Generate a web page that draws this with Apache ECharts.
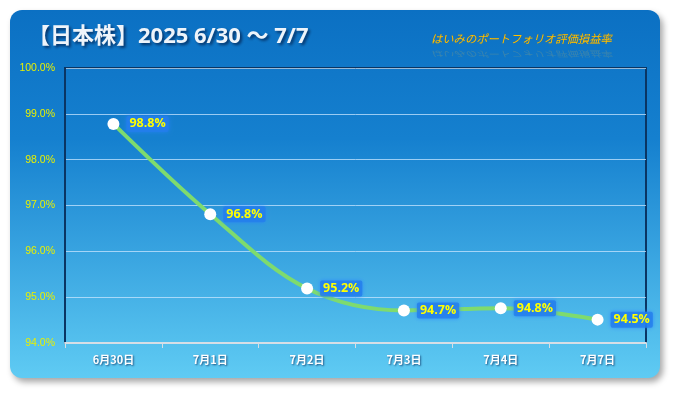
<!DOCTYPE html>
<html><head><meta charset="utf-8">
<script src="https://cdn.jsdelivr.net/npm/echarts@6/dist/echarts.min.js"></script>
<style>html,body{margin:0;padding:0;background:#fff}#c{width:675px;height:393px}</style>
</head><body><div id="c"></div>
<script>
const categories = ['6月30日','7月1日','7月2日','7月3日','7月4日','7月7日'];
const values = [98.78, 96.81, 95.19, 94.71, 94.76, 94.51];
const yTicks = {min: 94, max: 100, interval: 1};
const titleText = '【日本株】2025 6/30 〜 7/7';
const subtitleText = 'はいみのポートフォリオ評価損益率';

const chart = echarts.init(document.getElementById('c'), null, {renderer: 'canvas'});
chart.setOption({
  backgroundColor: '#ffffff',
  animation: false,
  graphic: [
    {type: 'rect', z: -100, shape: {x: 10, y: 10, width: 650, height: 368, r: 12},
     style: {fill: new echarts.graphic.LinearGradient(0,0,0,1,[{offset:0,color:'#0B70C3'},{offset:0.35,color:'#1580CF'},{offset:1,color:'#5FCBF3'}]),
       shadowColor: 'rgba(0,0,0,0.35)', shadowBlur: 6, shadowOffsetX: 3, shadowOffsetY: 4}},
    {type: 'text', z: 10, left: 28, top: 26,
     style: {text: titleText, fill: '#EEF4FA', font: 'bold 22px "Open Sans", "Noto Sans CJK JP", sans-serif',
       textShadowColor: 'rgba(0,20,60,0.7)', textShadowBlur: 3, textShadowOffsetX: 2, textShadowOffsetY: 2}},
    {type: 'text', z: 10, x: 431, y: 33,
     style: {text: subtitleText, fill: '#FFC000', font: 'italic 11.3px "Noto Sans CJK JP", sans-serif', textVerticalAlign: 'top',
       textShadowColor: 'rgba(120,80,0,0.4)', textShadowBlur: 1}},
    {type: 'text', z: 10, x: 431, y: 58, scaleY: -0.7, originX: 0, originY: 0,
     style: {text: subtitleText, fill: 'rgba(255,200,60,0.18)', font: 'italic 11.3px "Noto Sans CJK JP", sans-serif', textVerticalAlign: 'top'}}
  ],
  grid: {left: 65, right: 29, top: 68, bottom: 50, show: true, borderColor: '#0A3563', borderWidth: 2, backgroundColor: 'transparent'},
  xAxis: {
    type: 'category', data: categories, boundaryGap: true,
    axisLine: {lineStyle: {color: '#D6DEE6', width: 2}},
    axisTick: {show: true, length: 5, lineStyle: {color: '#D6DEE6', width: 1}},
    axisLabel: {color: '#FFFFFF', fontWeight: 'bold', fontSize: 11, margin: 11,
      fontFamily: '"Noto Sans CJK JP", sans-serif',
      textShadowColor: 'rgba(0,30,80,0.7)', textShadowBlur: 2, textShadowOffsetX: 1, textShadowOffsetY: 1}
  },
  yAxis: {
    type: 'value', min: yTicks.min, max: yTicks.max, interval: yTicks.interval,
    axisLine: {show: true, lineStyle: {color: '#0A3563', width: 2}},
    axisTick: {show: false},
    splitLine: {lineStyle: {color: 'rgba(200,230,255,0.75)', width: 1}},
    axisLabel: {color: '#E8F000', fontSize: 10.5, margin: 10, fontFamily: '"Liberation Sans", sans-serif',
      formatter: v => v.toFixed(1) + '%'}
  },
  series: [{
    type: 'line', data: values, smooth: 0.35,
    lineStyle: {color: '#7EDB6E', width: 4},
    symbol: 'circle', symbolSize: 12,
    itemStyle: {color: '#FFFFFF', borderColor: '#FFFFFF', borderWidth: 0},
    z: 5,
    label: {show: true, position: 'right', distance: 7,
      formatter: p => p.value.toFixed(1) + '%',
      color: '#FFFF00', fontWeight: 'bold', fontSize: 12.5, fontFamily: '"Open Sans", sans-serif',
      backgroundColor: 'rgba(35,125,235,0.8)', padding: [2, 3, 1, 3], borderRadius: 2,
      shadowColor: 'rgba(40,130,255,0.9)', shadowBlur: 4}
  }]
});
</script></body></html>
